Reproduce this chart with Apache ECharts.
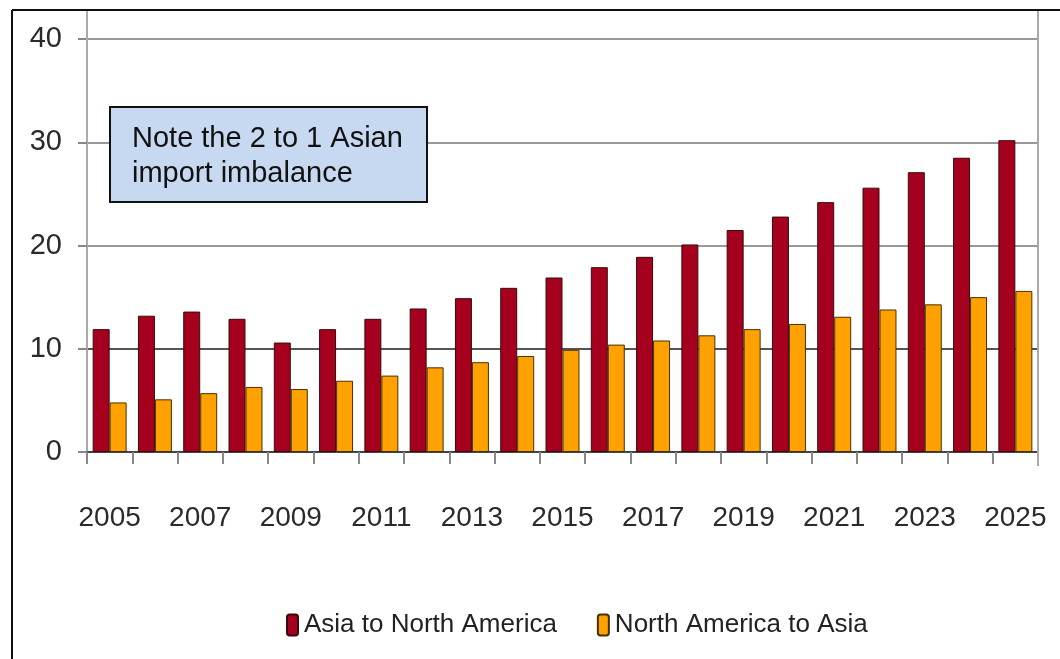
<!DOCTYPE html>
<html>
<head>
<meta charset="utf-8">
<script src="https://cdn.jsdelivr.net/npm/echarts@6/dist/echarts.min.js"></script>
<style>
  html, body { margin: 0; padding: 0; background: #ffffff; }
  #chart { width: 1060px; height: 659px; }
</style>
</head>
<body>
<div id="chart"></div>
<script>
const years = ['2005','2006','2007','2008','2009','2010','2011','2012','2013','2014','2015',
               '2016','2017','2018','2019','2020','2021','2022','2023','2024','2025'];
const asiaToNorthAmerica = [11.9, 13.2, 13.6, 12.9, 10.6, 11.9, 12.9, 13.9, 14.9, 15.9, 16.9,
                            17.9, 18.9, 20.1, 21.5, 22.8, 24.2, 25.6, 27.1, 28.5, 30.2];
const northAmericaToAsia = [4.8, 5.1, 5.7, 6.3, 6.1, 6.9, 7.4, 8.2, 8.7, 9.3, 9.9,
                            10.4, 10.8, 11.3, 11.9, 12.4, 13.1, 13.8, 14.3, 15.0, 15.6];
const seriesNames = ['Asia to North America', 'North America to Asia'];
const noteLines = ['Note the 2 to 1 Asian', 'import imbalance'];

const FONT = "'Liberation Sans Narrow', 'Arial Narrow', 'Liberation Sans', Arial, sans-serif";
const REG = "'Liberation Sans', Arial, sans-serif";

const chart = echarts.init(document.getElementById('chart'), null, { renderer: 'canvas' });
const option = {
  backgroundColor: '#ffffff',
  animation: false,
  grid: { left: 87, right: 22, top: 39, bottom: 207, containLabel: false },
  legend: {
    data: seriesNames,
    left: 281, top: 607,
    itemWidth: 11, itemHeight: 21, itemGap: 40,
    textStyle: { fontFamily: FONT, fontSize: 26, color: '#222', padding: [0, 0, 0, 1] }
  },
  xAxis: {
    type: 'category',
    data: years,
    boundaryGap: true,
    axisLine: { show: true, lineStyle: { color: '#444', width: 2 } },
    axisTick: { show: true, interval: 0, length: 12, lineStyle: { color: '#888', width: 2 } },
    axisLabel: { interval: 1, margin: 52, fontFamily: FONT, fontSize: 28, color: '#2a2a2a' }
  },
  yAxis: {
    type: 'value',
    min: 0, max: 40, interval: 10,
    axisLine: { show: true, lineStyle: { color: '#aaa', width: 2 } },
    axisTick: { show: true, length: 9, lineStyle: { color: '#888', width: 2 } },
    axisLabel: { margin: 25, fontFamily: FONT, fontSize: 29, color: '#2a2a2a' },
    splitLine: { show: true, lineStyle: { color: ['#444', '#555', '#999', '#999', '#999'], width: 2 } }
  },
  series: [
    {
      name: seriesNames[0], type: 'bar', data: asiaToNorthAmerica,
      barGap: '0%', barCategoryGap: '25%',
      itemStyle: { color: '#A6001F', borderColor: '#3a0a08', borderWidth: 1 }
    },
    {
      name: seriesNames[1], type: 'bar', data: northAmericaToAsia,
      barGap: '0%', barCategoryGap: '25%',
      itemStyle: { color: '#FFA100', borderColor: '#4a3000', borderWidth: 1 }
    }
  ],
  graphic: [
    { type: 'line', shape: { x1: 87, y1: 10, x2: 87, y2: 40 }, style: { stroke: '#aaa', lineWidth: 2 }, z: 1 },
    { type: 'line', shape: { x1: 1038, y1: 10, x2: 1038, y2: 466 }, style: { stroke: '#aaa', lineWidth: 2 }, z: 1 },
    { type: 'line', shape: { x1: 12, y1: 10, x2: 1060, y2: 10 }, style: { stroke: '#111', lineWidth: 2 }, z: 10 },
    { type: 'line', shape: { x1: 12, y1: 10, x2: 12, y2: 659 }, style: { stroke: '#111', lineWidth: 2 }, z: 10 },
    { type: 'rect', z: 100, shape: { x: 110, y: 107, width: 317, height: 95 },
      style: { fill: '#C6D9F1', stroke: '#111', lineWidth: 2 } },
    { type: 'text', z: 101, x: 132, y: 121,
      style: { text: noteLines.join('\n'), fontFamily: REG, fontSize: 29, lineHeight: 35, fill: '#111' } }
  ]
};
chart.setOption(option);
</script>
</body>
</html>
